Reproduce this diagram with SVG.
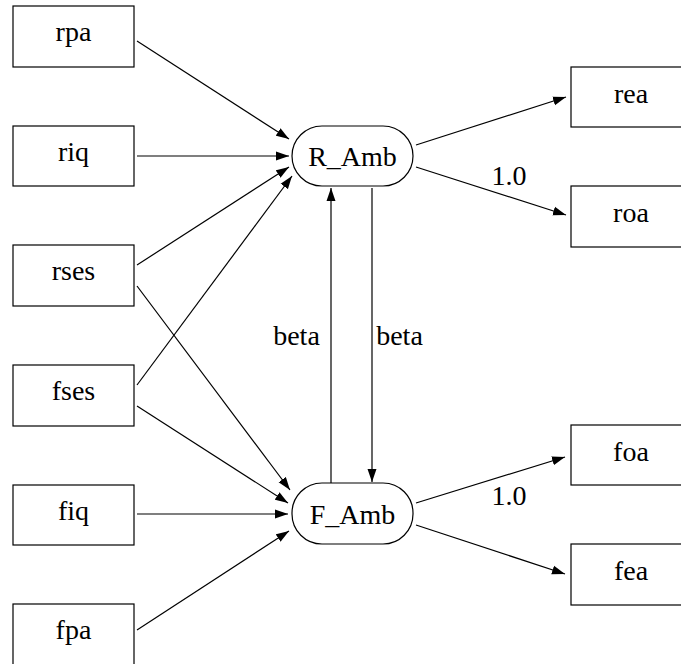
<svg xmlns="http://www.w3.org/2000/svg" width="681" height="664" viewBox="0 0 681 664">
<defs>
<marker id="ah" markerWidth="14" markerHeight="10" refX="13" refY="5" orient="auto" markerUnits="userSpaceOnUse">
<path d="M0,0.5 L13,5 L0,9.5 Z" fill="#000"/>
</marker>
<style>
.box{fill:#fff;stroke:#000;stroke-width:1.2}
.lat{fill:#fff;stroke:#000;stroke-width:1.2}
.t{font-family:"Liberation Serif","Times New Roman",Times,serif;font-size:28px;fill:#000;text-anchor:middle}
.edge{stroke:#000;stroke-width:1.2;fill:none;marker-end:url(#ah)}
</style>
</defs>
<rect width="681" height="664" fill="#fff"/>
<g id="connectors">
<line class="edge" x1="137" y1="41" x2="289" y2="139"/>
<line class="edge" x1="137" y1="156" x2="289" y2="156"/>
<line class="edge" x1="137" y1="265" x2="289" y2="167"/>
<line class="edge" x1="137" y1="286" x2="290" y2="490"/>
<line class="edge" x1="137" y1="385" x2="292" y2="176"/>
<line class="edge" x1="137" y1="406" x2="288" y2="503"/>
<line class="edge" x1="137" y1="514" x2="288" y2="514"/>
<line class="edge" x1="137" y1="630" x2="289" y2="531"/>
<line class="edge" x1="416" y1="145" x2="566" y2="97"/>
<line class="edge" x1="416" y1="167" x2="566" y2="215"/>
<line class="edge" x1="416" y1="503" x2="565" y2="457"/>
<line class="edge" x1="416" y1="525" x2="565" y2="574"/>
<line class="edge" x1="331" y1="483" x2="331" y2="188"/>
<line class="edge" x1="372" y1="188" x2="372" y2="482"/>
<text class="t" x="509" y="185">1.0</text>
<text class="t" x="509" y="505">1.0</text>
<text class="t" x="296.5" y="345">beta</text>
<text class="t" x="399.5" y="345">beta</text>
</g>
<g id="rpa"><rect class="box" x="13" y="6" width="121" height="61"/><text class="t" x="73.5" y="41">rpa</text></g>
<g id="riq"><rect class="box" x="13" y="126" width="121" height="60"/><text class="t" x="73.5" y="161">riq</text></g>
<g id="rses"><rect class="box" x="13" y="245" width="121" height="61"/><text class="t" x="73.5" y="280">rses</text></g>
<g id="fses"><rect class="box" x="13" y="365" width="121" height="61"/><text class="t" x="73.5" y="400">fses</text></g>
<g id="fiq"><rect class="box" x="13" y="485" width="121" height="60"/><text class="t" x="73.5" y="520">fiq</text></g>
<g id="fpa"><rect class="box" x="13" y="604" width="121" height="61"/><text class="t" x="73.5" y="639">fpa</text></g>
<g id="R_Amb"><rect class="lat" x="292" y="126" width="121" height="60" rx="30" ry="30"/><text class="t" x="352.5" y="166">R_Amb</text></g>
<g id="F_Amb"><rect class="lat" x="292" y="483" width="121" height="61" rx="30" ry="30"/><text class="t" x="352.5" y="524">F_Amb</text></g>
<g id="rea"><rect class="box" x="571" y="67" width="121" height="60"/><text class="t" x="631" y="103">rea</text></g>
<g id="roa"><rect class="box" x="571" y="186" width="121" height="61"/><text class="t" x="631" y="222">roa</text></g>
<g id="foa"><rect class="box" x="571" y="425" width="121" height="60"/><text class="t" x="631" y="461">foa</text></g>
<g id="fea"><rect class="box" x="571" y="544" width="121" height="61"/><text class="t" x="631" y="580">fea</text></g>
</svg>
